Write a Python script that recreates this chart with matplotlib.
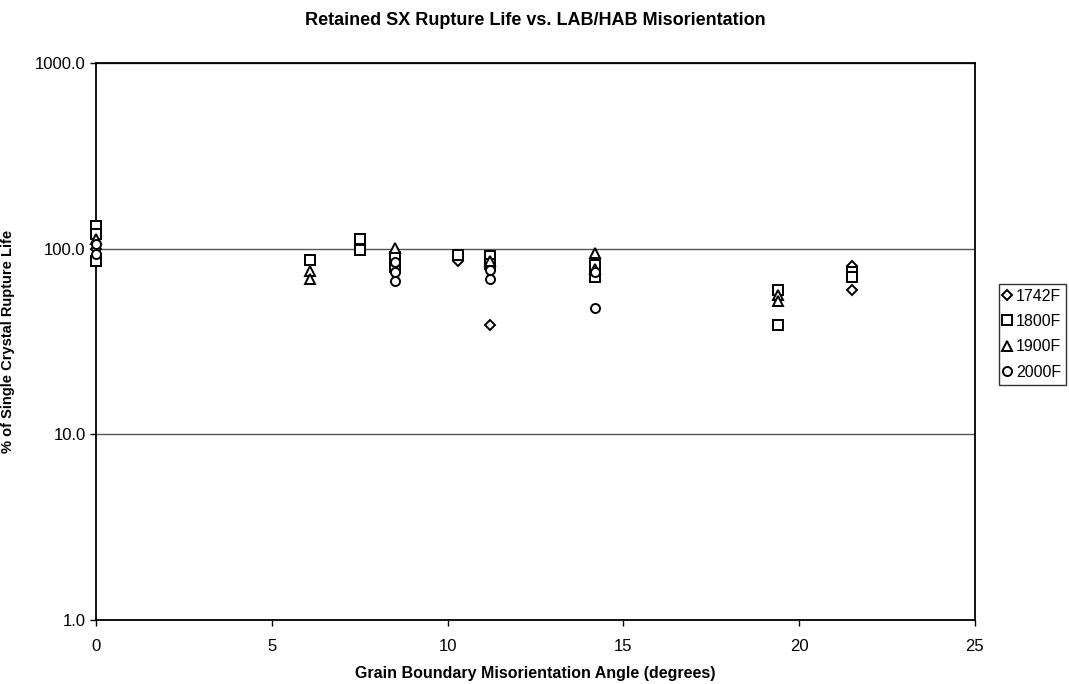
import matplotlib
matplotlib.use("Agg")
import matplotlib.pyplot as plt

plt.rcParams['font.family'] = ['Liberation Sans', 'DejaVu Sans']

# angle (degrees) and % of single crystal rupture life, per test temperature
x_1742 = [0.0, 10.3, 11.2, 21.5, 21.5]
y_1742 = [100, 86, 39, 81, 60]

x_1800 = [0.0, 0.0, 0.0, 6.1, 7.5, 7.5, 8.5, 8.5, 10.3, 11.2, 11.2, 14.2, 14.2, 19.4, 19.4, 21.5, 21.5]
y_1800 = [132, 120, 86, 87, 113, 98, 90, 80, 92, 91, 83, 82, 70, 60, 39, 75, 70]

x_1900 = [0.0, 6.1, 6.1, 8.5, 11.2, 14.2, 14.2, 19.4, 19.4]
y_1900 = [112, 76, 69, 101, 86, 95, 78, 56, 52]

x_2000 = [0.0, 0.0, 8.5, 8.5, 8.5, 11.2, 11.2, 14.2, 14.2]
y_2000 = [106, 93, 85, 75, 67, 77, 69, 75, 48]

series = [
    ("1742F", "D", x_1742, y_1742, 5),
    ("1800F", "s", x_1800, y_1800, 6.5),
    ("1900F", "^", x_1900, y_1900, 6.5),
    ("2000F", "o", x_2000, y_2000, 6.5),
]

fig = plt.figure(figsize=(10.69, 6.84), dpi=100)
ax = fig.add_axes([0.0898, 0.0936, 0.8222, 0.8144])

for name, mk, xs, ys, ms in series:
    ax.plot(xs, ys, linestyle='none', marker=mk, markersize=ms,
            markerfacecolor='white', markeredgecolor='black',
            markeredgewidth=1.4, label=name, clip_on=False, zorder=3)

ax.set_yscale('log')
ax.set_ylim(1, 1000)
ax.set_xlim(0, 25)
ax.set_xticks([0, 5, 10, 15, 20, 25])
ax.set_yticks([1, 10, 100, 1000])
ax.set_yticklabels(['1.0', '10.0', '100.0', '1000.0'])
ax.minorticks_off()
ax.yaxis.grid(True, color='#555555', linewidth=1.0)
ax.set_axisbelow(True)
ax.tick_params(axis='both', labelsize=12, length=4, width=1, colors='black')
ax.tick_params(axis='x', pad=10)
for sp in ax.spines.values():
    sp.set_linewidth(1.3)

ax.set_title("Retained SX Rupture Life vs. LAB/HAB Misorientation",
             fontsize=13, fontweight='bold', pad=27)
ax.set_xlabel("Grain Boundary Misorientation Angle (degrees)",
              fontsize=11.5, fontweight='bold')
ax.xaxis.set_label_coords(0.5, -0.083)
ax.set_ylabel("% of Single Crystal Rupture Life",
              fontsize=10.5, fontweight='bold')
ax.yaxis.set_label_coords(-0.092, 0.5)

leg = ax.legend(loc='center left', bbox_to_anchor=(1.027, 0.513),
                fontsize=11.5, frameon=True, fancybox=False,
                handlelength=0.5, handletextpad=0.3, borderpad=0.3,
                labelspacing=0.65, borderaxespad=0)
leg.get_frame().set_edgecolor('black')
leg.get_frame().set_linewidth(1.0)

fig.savefig("out.png", dpi=100)
